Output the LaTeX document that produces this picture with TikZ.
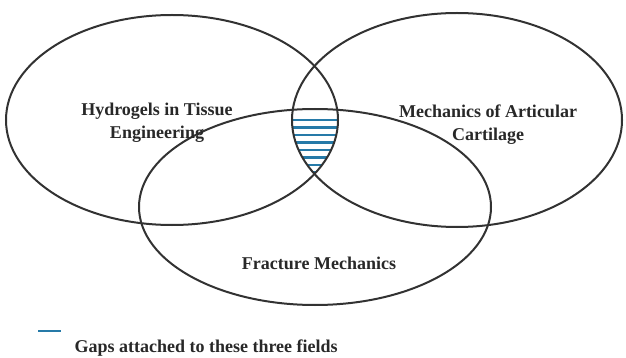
\documentclass[tikz,border=0pt]{standalone}
\usepackage{fontspec}
\setmainfont{Liberation Serif}
\usepackage{tikz}
\usetikzlibrary{positioning}
\usepackage{xcolor}
\definecolor{ringgray}{RGB}{50,50,50}
\definecolor{gapblue}{RGB}{38,122,168}

\begin{document}
\begin{tikzpicture}[x=1pt,y=-1pt,
  ring/.style={draw=ringgray,line width=2pt},
  field/.style={font=\fontsize{18}{23}\selectfont\bfseries,text=ringgray!80!black,align=center},
  gapline/.style={draw=gapblue,line width=2.4pt}]
\useasboundingbox (0,0) rectangle (626,358);
\def\leftring{(172,120) ellipse [x radius=166,y radius=105]}
\def\rightring{(457,120) ellipse [x radius=165,y radius=107]}
\def\lowring{(315,207) ellipse [x radius=176,y radius=98]}
% hatched gap
\begin{scope}
\clip \leftring; \clip \rightring; \clip \lowring;
\foreach \y in {120,127.5,...,173}
  \draw[gapline] (280,\y) -- (350,\y);
\end{scope}
\draw[ring] \leftring;
\draw[ring] \rightring;
\draw[ring] \lowring;
\node[field] (hyd) at (157,123) {Hydrogels in Tissue\\Engineering};
\node[field] (mech) at (488,125) {Mechanics of Articular\\Cartilage};
\node[field] (frac) at (319,263) {Fracture Mechanics};
% legend
\node[field,anchor=west] (gap) at (71,348) {Gaps attached to these three fields};
\draw[gapline,line width=2.8pt] (38,331) -- (61,331);
\end{tikzpicture}
\end{document}
